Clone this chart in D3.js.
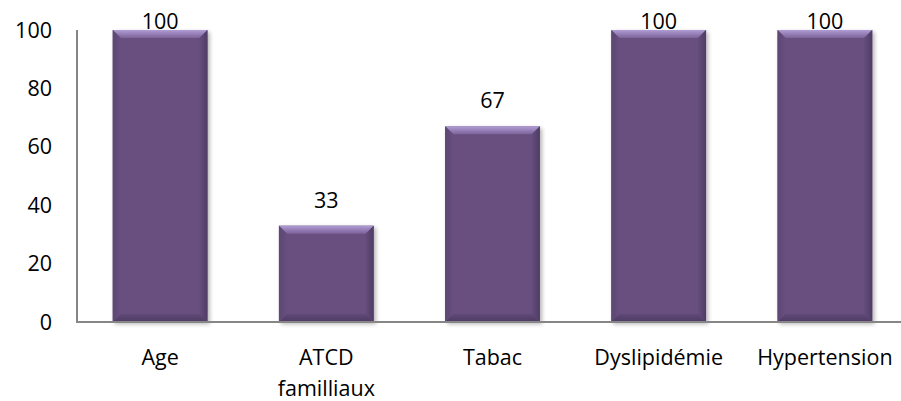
<!DOCTYPE html>
<html>
<head>
<meta charset="utf-8">
<script src="https://cdn.jsdelivr.net/npm/d3@7"></script>
<style>
  html, body { margin: 0; padding: 0; background: #fff; }
  svg { display: block; }
  text { font-family: "Open Sans", "Noto Sans", sans-serif; fill: #000; }
</style>
</head>
<body>
<svg id="chart" width="901" height="401"></svg>
<script>
// Facteurs de risque (%)
const categories = [["Age"], ["ATCD", "familliaux"], ["Tabac"], ["Dyslipidémie"], ["Hypertension"]];
const values = [100, 33, 67, 100, 100];
const yTicks = [0, 20, 40, 60, 80, 100];

const svg = d3.select("#chart");
const W = 901, H = 401;
const plot = { left: 77, right: 908, top: 30, bottom: 322 };
const fontSize = 21.5;
const axisColor = "#868686";

const x = d3.scaleBand()
  .domain(d3.range(values.length))
  .range([plot.left, plot.right])
  .paddingInner(0.43)
  .paddingOuter(0.215);

const y = d3.scaleLinear().domain([0, 100]).range([plot.bottom, plot.top]);

// Gradients & shadow for the bevelled bars
const defs = svg.append("defs");
function grad(id, horizontal, c0, c1) {
  const g = defs.append("linearGradient").attr("id", id)
    .attr("x1", 0).attr("y1", 0)
    .attr("x2", horizontal ? 1 : 0).attr("y2", horizontal ? 0 : 1);
  g.append("stop").attr("offset", "0%").attr("stop-color", c0);
  g.append("stop").attr("offset", "100%").attr("stop-color", c1);
}
grad("bevTop", false, "#b09cd4", "#7c6399");
grad("bevBot", false, "#5f4877", "#4e3b63");
grad("bevLeft", true, "#5c4673", "#67507f");
grad("bevRight", true, "#644d7c", "#4f3c64");

const sh = defs.append("filter").attr("id", "shadow").attr("x", "-10%").attr("y", "-10%").attr("width", "130%").attr("height", "130%");
sh.append("feGaussianBlur").attr("in", "SourceAlpha").attr("stdDeviation", 2).attr("result", "b");
sh.append("feOffset").attr("in", "b").attr("dx", 2).attr("dy", 2).attr("result", "o");
sh.append("feComponentTransfer").attr("in", "o").attr("result", "s")
  .append("feFuncA").attr("type", "linear").attr("slope", 0.3);
const merge = sh.append("feMerge");
merge.append("feMergeNode").attr("in", "s");
merge.append("feMergeNode").attr("in", "SourceGraphic");

// Y axis labels (no tick marks)
svg.append("g").selectAll("text").data(yTicks).join("text")
  .attr("x", 52).attr("y", d => y(d)).attr("dy", "0.35em")
  .attr("text-anchor", "end").attr("font-size", fontSize)
  .text(d => d);

// Bars
const bev = 8;
const bars = svg.append("g").selectAll("g").data(values).join("g")
  .attr("filter", "url(#shadow)");
bars.append("rect")
  .attr("x", (d, i) => x(i)).attr("y", d => y(d))
  .attr("width", x.bandwidth()).attr("height", d => y(0) - y(d))
  .attr("fill", "#67507f");
function poly(sel, fill, fn) {
  sel.append("polygon").attr("fill", fill).attr("points", (d, i) => {
    const x0 = x(i), x1 = x(i) + x.bandwidth(), y0 = y(d), y1 = y(0);
    return fn(x0, x1, y0, y1).map(p => p.join(",")).join(" ");
  });
}
poly(bars, "url(#bevTop)", (x0, x1, y0) => [[x0, y0], [x1, y0], [x1 - bev, y0 + bev], [x0 + bev, y0 + bev]]);
poly(bars, "url(#bevLeft)", (x0, x1, y0, y1) => [[x0, y0], [x0 + bev, y0 + bev], [x0 + bev, y1 - bev], [x0, y1]]);
poly(bars, "url(#bevRight)", (x0, x1, y0, y1) => [[x1, y0], [x1 - bev, y0 + bev], [x1 - bev, y1 - bev], [x1, y1]]);
poly(bars, "url(#bevBot)", (x0, x1, y0, y1) => [[x0, y1], [x0 + bev, y1 - bev], [x1 - bev, y1 - bev], [x1, y1]]);

// Axis lines
svg.append("line").attr("x1", plot.left).attr("x2", plot.left)
  .attr("y1", plot.top).attr("y2", plot.bottom)
  .attr("stroke", axisColor).attr("stroke-width", 2);
svg.append("line").attr("x1", plot.left - 1).attr("x2", W)
  .attr("y1", plot.bottom).attr("y2", plot.bottom)
  .attr("stroke", axisColor).attr("stroke-width", 2);

// Value labels above bars, kept inside the chart area
const labelGap = 18, labelMinBaseline = 29;
svg.append("g").selectAll("text").data(values).join("text")
  .attr("x", (d, i) => x(i) + x.bandwidth() / 2)
  .attr("y", d => Math.max(y(d) - labelGap, labelMinBaseline))
  .attr("text-anchor", "middle").attr("font-size", fontSize)
  .text(d => d);

// Category labels
const cat = svg.append("g").selectAll("text").data(categories).join("text")
  .attr("x", (d, i) => x(i) + x.bandwidth() / 2)
  .attr("y", 365)
  .attr("text-anchor", "middle").attr("font-size", fontSize);
cat.selectAll("tspan").data((d, i) => d.map(s => ({ s, i }))).join("tspan")
  .attr("x", d => x(d.i) + x.bandwidth() / 2)
  .attr("dy", (d, j) => j === 0 ? 0 : 31)
  .text(d => d.s);
</script>
</body>
</html>
